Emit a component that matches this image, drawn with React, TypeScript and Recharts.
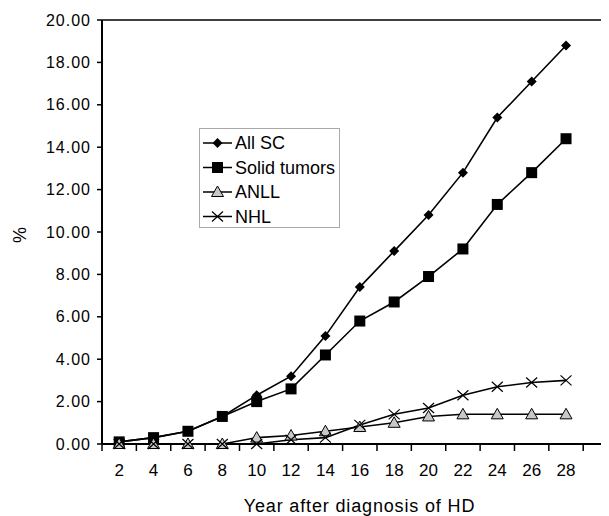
import React from 'react';
import { LineChart, Line, XAxis, YAxis, ReferenceLine, Legend } from 'recharts';

const years = [2, 4, 6, 8, 10, 12, 14, 16, 18, 20, 22, 24, 26, 28];
const allSC = [0.1, 0.3, 0.6, 1.3, 2.3, 3.2, 5.1, 7.4, 9.1, 10.8, 12.8, 15.4, 17.1, 18.8];
const solidTumors = [0.1, 0.3, 0.6, 1.3, 2.0, 2.6, 4.2, 5.8, 6.7, 7.9, 9.2, 11.3, 12.8, 14.4];
const anll = [0, 0, 0, 0, 0.3, 0.4, 0.6, 0.8, 1.0, 1.3, 1.4, 1.4, 1.4, 1.4];
const nhl = [0, 0, 0, 0, 0, 0.2, 0.3, 0.9, 1.4, 1.7, 2.3, 2.7, 2.9, 3.0];
const yTicks = [0, 2, 4, 6, 8, 10, 12, 14, 16, 18, 20];
const seriesNames = ['All SC', 'Solid tumors', 'ANLL', 'NHL'];
const xTitle = 'Year after diagnosis of HD';
const yTitle = '%';

const data = years.map((y, i) => ({
  year: y,
  allSC: allSC[i],
  solid: solidTumors[i],
  anll: anll[i],
  nhl: nhl[i],
}));

const xTickPositions = years.flatMap((y) => [y - 1, y]).concat([years[years.length - 1] + 1]);

const FONT = 'Liberation Sans, Arial, Helvetica, sans-serif';

const diamondPath = (cx: number, cy: number, r = 5) =>
  `M${cx},${cy - r}L${cx + r},${cy}L${cx},${cy + r}L${cx - r},${cy}Z`;

const markerFor = (idx: number, cx: number, cy: number, key?: string) => {
  if (idx === 0) return <path key={key} d={diamondPath(cx, cy, 5)} fill="#000" />;
  if (idx === 1) return <rect key={key} x={cx - 5.5} y={cy - 5.5} width={11} height={11} fill="#000" />;
  if (idx === 2)
    return (
      <path
        key={key}
        d={`M${cx},${cy - 6}L${cx + 6},${cy + 4.5}L${cx - 6},${cy + 4.5}Z`}
        fill="#c8c8c8"
        stroke="#000"
        strokeWidth={1}
      />
    );
  return (
    <path
      key={key}
      d={`M${cx - 5.5},${cy - 5}L${cx + 5.5},${cy + 5}M${cx - 5.5},${cy + 5}L${cx + 5.5},${cy - 5}`}
      stroke="#000"
      strokeWidth={1.2}
      fill="none"
    />
  );
};

const makeDot = (idx: number) => (p: any) => {
  const { cx, cy, index } = p;
  if (cx == null || cy == null) return <g key={`e-${idx}-${index}`} />;
  return markerFor(idx, cx, cy, `m-${idx}-${index}`);
};

const XTick = (p: any) => {
  const { x, y, payload } = p;
  const v = payload.value;
  if (v % 2 === 1) {
    return <line x1={x} x2={x} y1={y} y2={y + 7} stroke="#000" strokeWidth={1.5} />;
  }
  return (
    <text x={x} y={y + 32} textAnchor="middle" fontSize={17} fontFamily={FONT} fill="#000">
      {v}
    </text>
  );
};

const LegendBox = () => (
  <div
    style={{
      width: 141,
      height: 100,
      border: '1px solid #aaa',
      background: '#fff',
      boxSizing: 'border-box',
    }}
  >
    <svg width={139} height={98}>
      {seriesNames.map((name, i) => {
        const cy = 14 + i * 24.5;
        return (
          <g key={name}>
            <line x1={3} x2={32} y1={cy} y2={cy} stroke="#000" strokeWidth={1.5} />
            {markerFor(i, 17.5, cy)}
            <text x={35} y={cy + 6} fontSize={18} fontFamily={FONT} fill="#000">
              {name}
            </text>
          </g>
        );
      })}
    </svg>
  </div>
);

export default function App() {
  return (
    <LineChart
      width={601}
      height={508}
      data={data}
      margin={{ top: 12, right: 0, bottom: 0, left: 0 }}
    >
      <XAxis
        dataKey="year"
        type="number"
        domain={[1, 30.5]}
        allowDataOverflow
        ticks={xTickPositions}
        interval={0}
        tick={<XTick />}
        tickLine={false}
        tickSize={0}
        tickMargin={0}
        height={72}
        axisLine={{ stroke: '#000', strokeWidth: 2 }}
        label={(props: any) => {
          const vb = props.viewBox;
          return (
            <text
              x={vb.x + vb.width / 2 + 4}
              y={vb.y + 68}
              textAnchor="middle"
              fontSize={18}
              letterSpacing={0.85}
              fontFamily={FONT}
              fill="#000"
            >
              {xTitle}
            </text>
          );
        }}
      />
      <YAxis
        type="number"
        domain={[0, 20]}
        ticks={yTicks}
        interval={0}
        width={94}
        tickFormatter={(v: number) => v.toFixed(2)}
        tick={{ fontSize: 16, fontFamily: FONT, fill: '#000', letterSpacing: 1 }}
        tickSize={5}
        tickMargin={6}
        tickLine={{ stroke: '#000', strokeWidth: 1.5 }}
        axisLine={{ stroke: '#000', strokeWidth: 2 }}
        label={(props: any) => {
          const vb = props.viewBox;
          const cx = 12;
          const cy = vb.y + vb.height / 2 + 3;
          return (
            <text
              x={cx}
              y={cy}
              transform={`rotate(-90 ${cx} ${cy})`}
              textAnchor="middle"
              dominantBaseline="central"
              fontSize={18}
              fontFamily={FONT}
              fill="#000"
            >
              {yTitle}
            </text>
          );
        }}
      />
      <ReferenceLine y={20} stroke="#000" strokeWidth={1.5} ifOverflow="visible" />
      <Legend
        layout="vertical"
        align="center"
        verticalAlign="middle"
        content={<LegendBox />}
        wrapperStyle={{ left: 191, top: 120, width: 141, height: 100 }}
      />
      <Line dataKey="allSC" name={seriesNames[0]} stroke="#000" strokeWidth={1.6} dot={makeDot(0)} isAnimationActive={false} />
      <Line dataKey="solid" name={seriesNames[1]} stroke="#000" strokeWidth={1.6} dot={makeDot(1)} isAnimationActive={false} />
      <Line dataKey="anll" name={seriesNames[2]} stroke="#000" strokeWidth={1.6} dot={makeDot(2)} isAnimationActive={false} />
      <Line dataKey="nhl" name={seriesNames[3]} stroke="#000" strokeWidth={1.6} dot={makeDot(3)} isAnimationActive={false} />
    </LineChart>
  );
}
